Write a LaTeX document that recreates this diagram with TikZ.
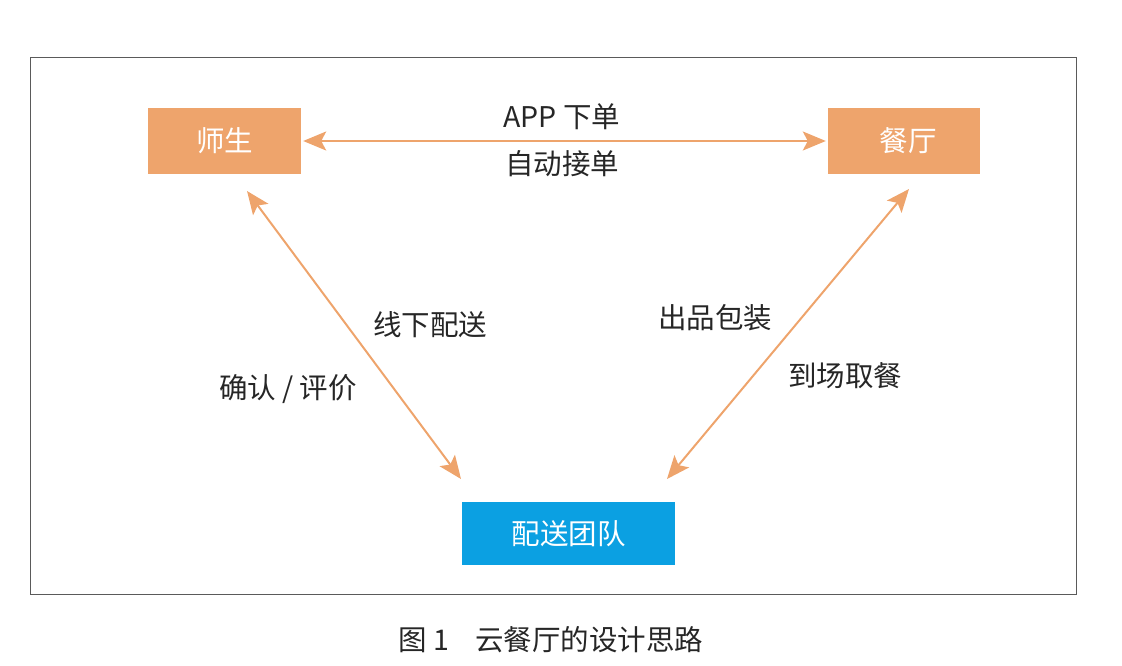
\documentclass[tikz,border=0pt]{standalone}
\usepackage{fontspec}
\setmainfont{Noto Sans CJK SC}
\usetikzlibrary{arrows.meta}
\definecolor{orangebox}{HTML}{EEA46C}
\definecolor{bluebox}{HTML}{0BA0E2}
\definecolor{framegray}{HTML}{5A5A5A}
\begin{document}
\begin{tikzpicture}[x=1pt,y=-1pt,
  box/.style={draw=none,minimum width=153pt,minimum height=66pt,inner sep=0pt,text=white,font=\fontsize{28.5}{31}\selectfont},
  lbl/.style={font=\fontsize{28.5}{31}\selectfont,text=black!85,inner sep=0pt},
  tip/.style={Stealth[length=23pt,width=19pt,inset=5pt]},
  conn/.style={draw=orangebox,line width=2pt,{Stealth[length=23pt,width=19pt,inset=5pt]}-{Stealth[length=23pt,width=19pt,inset=5pt]}}]
\useasboundingbox (0,0) rectangle (1122,666);
\draw[framegray,line width=0.9pt] (30,57) rectangle (1076,594);
\node[box,fill=orangebox] (ss) at (224.5,141) {师生};
\node[box,fill=orangebox,minimum width=152pt] (ct) at (904,141) {\hspace*{8pt}餐厅};
\node[box,fill=bluebox,minimum width=213pt,minimum height=63pt] (ps) at (568.5,533.5) {配送团队};
\coordinate (a1) at (247,191);
\coordinate (a2) at (461,479);
\coordinate (b1) at (909,189);
\coordinate (b2) at (667,479);
\draw[conn] ([xshift=2pt]ss.east) -- ([xshift=-2pt]ct.west);
\draw[conn] (a1) -- (a2);
\draw[conn] (b1) -- (b2);
\node[lbl] (l1) at (562,117) {APP 下单};
\node[lbl] (l2) at (562,164) {自动接单};
\node[lbl] (l3) at (430,325) {线下配送};
\node[lbl] (l4) at (288,389) {确认 / 评价};
\node[lbl] (l5) at (715,318) {出品包装};
\node[lbl] (l6) at (845,376) {到场取餐};
\node[lbl] (cap) at (551,640) {图 1\hspace{0.9em}云餐厅的设计思路};
\end{tikzpicture}
\end{document}
